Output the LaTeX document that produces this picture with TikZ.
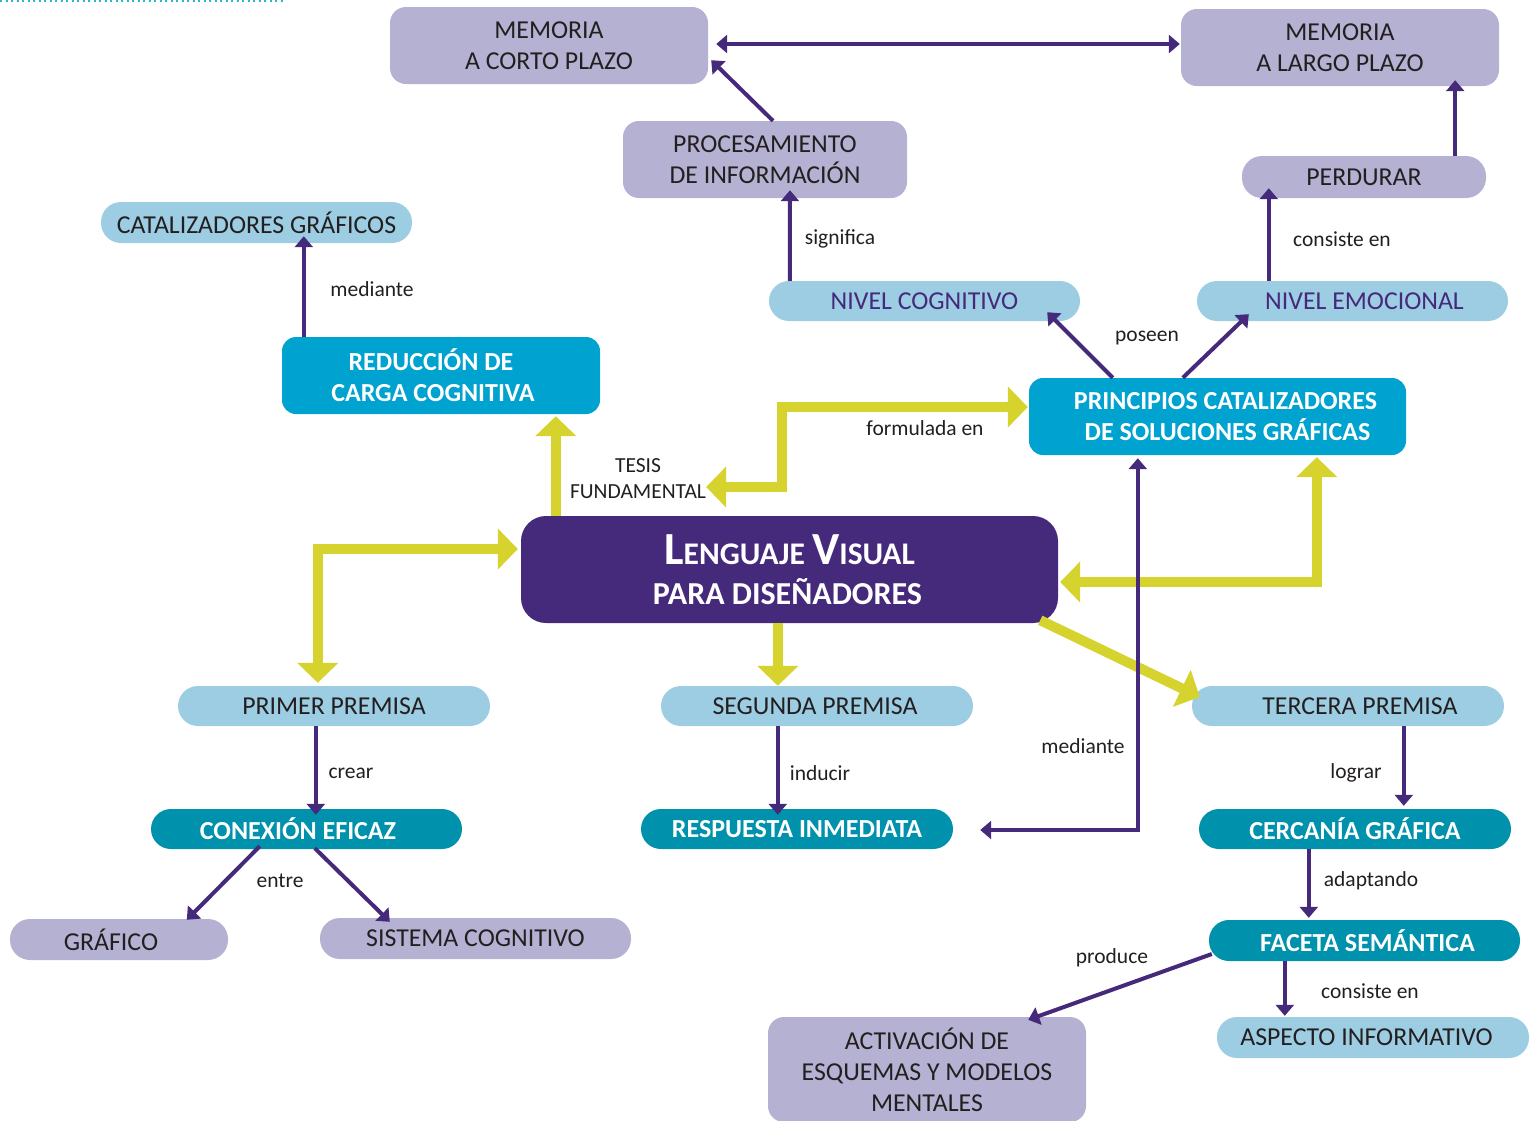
\documentclass[tikz,border=0pt]{standalone}
\usepackage{fontspec}
\setmainfont{Carlito}
\usetikzlibrary{arrows.meta,calc}

\definecolor{ink}{HTML}{231F20}
\definecolor{lavfill}{HTML}{B4B1D2}
\definecolor{skyfill}{HTML}{9DCDE3}
\definecolor{bluefill}{HTML}{00A2CF}
\definecolor{tealfill}{HTML}{0091AD}
\definecolor{plum}{HTML}{45297B}
\definecolor{lime}{HTML}{D6D32F}
\definecolor{dotcyan}{HTML}{2AB8CC}

\tikzset{
  ptip/.tip={Triangle[width=18pt,length=11pt]},
  ytip/.tip={Triangle[width=40pt,length=20pt]},
  box/.style={draw=none, inner sep=0pt, align=center, text=ink,
              font=\fontsize{25.8}{31}\selectfont},
  lav/.style={box, fill=lavfill, rounded corners=16pt},
  lavpill/.style={box, fill=lavfill, rounded corners=20pt},
  sky/.style={box, fill=skyfill, rounded corners=20pt},
  bluebox/.style={box, fill=bluefill, rounded corners=14pt, text=white,
                  font=\bfseries\fontsize{26}{31}\selectfont},
  tealpill/.style={box, fill=tealfill, rounded corners=20pt, text=white,
                   font=\bfseries\fontsize{26}{31}\selectfont},
  lbl/.style={text=ink, inner sep=0pt, align=center,
              font=\fontsize{21.5}{26}\selectfont},
  link/.style={draw=plum, line width=4pt, -{ptip}},
  link2/.style={draw=plum, line width=4pt, {ptip}-{ptip}},
  ylink/.style={draw=lime, line width=10pt, -{ytip}},
  ylink2/.style={draw=lime, line width=10pt, {ytip}-{ytip}},
}

\begin{document}
\begin{tikzpicture}[x=1pt,y=-1pt]
\path[use as bounding box] (0,0) rectangle (1534,1120);

% dotted rule at the top edge
\draw[dotcyan, line width=2pt, dash pattern=on 2pt off 3.5pt] (0,1) -- (285,1);

% ---------- nodes ----------
\node[lav, minimum width=318pt, minimum height=77pt] (mcp) at (549,45.5) {MEMORIA\\A CORTO PLAZO};
\node[lav, minimum width=318pt, minimum height=77pt] (mlp) at (1340,47.5) {MEMORIA\\A LARGO PLAZO};
\node[lav, minimum width=284pt, minimum height=77pt] (pro) at (765,159.5) {PROCESAMIENTO\\DE INFORMACIÓN};
\node[lavpill, minimum width=244pt, minimum height=42pt] (per) at (1364,177) {PERDURAR};
\node[sky, minimum width=311pt, minimum height=41pt] (cat) at (256.5,222.5) {CATALIZADORES GRÁFICOS};
\node[sky, text=plum, minimum width=311pt, minimum height=40pt] (nco) at (924.5,301) {NIVEL COGNITIVO};
\node[sky, text=plum, minimum width=311pt, minimum height=40pt] (nem) at (1352.5,301) {\hspace*{24pt}NIVEL EMOCIONAL};
\node[bluebox, minimum width=318pt, minimum height=77pt] (red) at (441,375.5)
  {REDUCCIÓN DE\hspace*{20pt}\\CARGA COGNITIVA\hspace*{16pt}};
\node[bluebox, minimum width=377pt, minimum height=77pt] (pri) at (1217.5,416.5)
  {\hspace*{16pt}PRINCIPIOS CATALIZADORES\\\hspace*{20pt}DE SOLUCIONES GRÁFICAS};
\node[box, fill=plum, rounded corners=25pt, text=white, minimum width=537pt, minimum height=107pt,
      font=\bfseries\fontsize{32}{40}\selectfont] (len) at (789.5,569.5)
  {{\fontsize{46}{40}\selectfont L}{\fontsize{31.5}{40}\selectfont ENGUAJE} {\fontsize{46}{40}\selectfont V}{\fontsize{31.5}{40}\selectfont ISUAL}\\PARA DISEÑADORES\hspace*{4pt}};
\node[sky, minimum width=312pt, minimum height=40pt] (p1) at (334,706) {PRIMER PREMISA};
\node[sky, minimum width=312pt, minimum height=40pt] (p2) at (817,706) {SEGUNDA PREMISA\hspace*{4pt}};
\node[sky, minimum width=312pt, minimum height=40pt] (p3) at (1348,706) {\hspace*{24pt}TERCERA PREMISA};
\node[tealpill, minimum width=311pt, minimum height=40pt] (con) at (306.5,829) {CONEXIÓN EFICAZ\hspace*{17pt}};
\node[tealpill, minimum width=312pt, minimum height=40pt] (res) at (797,829) {RESPUESTA INMEDIATA};
\node[tealpill, minimum width=312pt, minimum height=40pt] (cer) at (1355,829) {CERCANÍA GRÁFICA};
\node[lavpill, minimum width=218pt, minimum height=41pt] (gra) at (119,939.5) {GRÁFICO\hspace*{16pt}};
\node[lavpill, minimum width=311pt, minimum height=41pt] (sis) at (475.5,938.5) {SISTEMA COGNITIVO};
\node[tealpill, minimum width=311pt, minimum height=41pt] (fac) at (1364.5,940.5) {\hspace*{6pt}FACETA SEMÁNTICA};
\node[sky, minimum width=312pt, minimum height=41pt] (asp) at (1373,1037.5) {ASPECTO INFORMATIVO\hspace*{13pt}};
\node[lav, minimum width=318pt, minimum height=105pt] (act) at (927,1069.5) {ACTIVACIÓN DE\\ESQUEMAS Y MODELOS\\MENTALES};

% ---------- labels ----------
\node[lbl] (lsig) at (840,239) {significa};
\node[lbl] (lcon1) at (1342,239) {consiste en};
\node[lbl] (lmed1) at (372,289) {mediante};
\node[lbl] (lpos) at (1147,338) {poseen};
\node[lbl] (lfor) at (925,428) {formulada en};
\node[lbl] (tesis) at (638,479) {TESIS\\FUNDAMENTAL};
\node[lbl] (lmed2) at (1083,746) {mediante};
\node[lbl] (lcre) at (351,773) {crear};
\node[lbl] (lind) at (820,773) {inducir};
\node[lbl] (llog) at (1356,773) {lograr};
\node[lbl] (lent) at (280,881) {entre};
\node[lbl] (lada) at (1371,881) {adaptando};
\node[lbl] (lpro) at (1112,958) {produce};
\node[lbl] (lcon2) at (1370,991) {consiste en};

% ---------- yellow connectors ----------
\draw[ylink] ($(len.north west)+(35,0)$) -- ($(red.south west)+(274,2)$);
\draw[ylink2] ($(tesis.east)+(0,8)$) -- ++(76,0) |- ($(pri.west)+(-1,-9.5)$);
\draw[ylink2] ($(p1.north west)+(140,-3)$) |- ($(len.west)+(-3,-20.5)$);
\draw[ylink] ($(len.south west)+(257,0)$) -- ($(p2.north west)+(117,0)$);
\draw[ylink] ($(len.south east)+(-18,-3)$) -- ($(p3.west)+(8,-9)$);
\draw[ylink2] ($(len.east)+(2,12.5)$) -| ($(pri.south west)+(288,2)$);

% ---------- purple connectors ----------
\draw[link2] ($(mcp.east)+(8,-1.5)$) -- ($(mlp.west)+(-1,-3.5)$);
\draw[link] ($(pro.north)+(8,0)$) -- ($(mcp.south east)+(3,-24)$);
\draw[link] ($(nco.north west)+(21,0)$) -- ($(pro.south)+(25,-8)$);
\draw[link] ($(nem.north west)+(72,0)$) -- ($(per.south west)+(27,-10)$);
\draw[link] ($(per.north east)+(-31,0)$) -- ($(mlp.south east)+(-44,-6)$);
\draw[link] ($(red.north west)+(22,0)$) -- ($(cat.south west)+(203,-7)$);
\draw[link] ($(pri.north west)+(84,0)$) -- ($(nco.south east)+(-33,-9)$);
\draw[link] ($(pri.north west)+(154,0)$) -- ($(nem.south west)+(52,-7)$);
\draw[link2] ($(pri.south west)+(109,3)$) |- ($(res.east)+(27,1)$);
\draw[link] ($(p1.south west)+(138,0)$) -- ($(con.north west)+(165,6)$);
\draw[link] ($(p2.south west)+(117,0)$) -- ($(res.north west)+(137,6)$);
\draw[link] ($(p3.south west)+(212,0)$) -- ($(cer.north west)+(205,-3)$);
\draw[link] ($(cer.south west)+(110,0)$) -- ($(fac.north west)+(100,-2)$);
\draw[link] ($(fac.south west)+(76,0)$) -- ($(asp.north west)+(68,-1)$);
\draw[link] ($(fac.west)+(3,13.5)$) -- ($(act.north east)+(-58,3)$);
\draw[link] ($(con.south west)+(109,-3)$) -- ($(gra.north west)+(177,1)$);
\draw[link] ($(con.south west)+(164,-1)$) -- ($(sis.north west)+(70,4)$);
\end{tikzpicture}
\end{document}
